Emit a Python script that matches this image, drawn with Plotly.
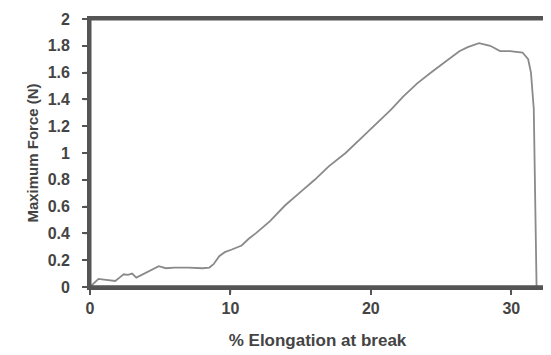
import plotly.graph_objects as go

elongation = [0, 0.3, 0.6, 1.0, 1.4, 1.8, 2.1, 2.4, 2.7, 3.0, 3.3, 3.7, 4.2, 4.6, 4.9,
              5.4, 6.0, 7.0, 8.0, 8.5, 8.8, 9.2, 9.6, 10.1, 10.8, 11.3, 11.8, 12.8,
              13.9, 15.0, 16.0, 17.0, 18.2, 19.2, 20.3, 21.4, 22.3, 23.3, 24.4, 25.5,
              26.3, 26.9, 27.7, 28.5, 29.2, 29.9, 30.8, 31.2, 31.4, 31.6, 31.7, 31.8]
force = [0.0, 0.03, 0.06, 0.055, 0.05, 0.045, 0.07, 0.095, 0.09, 0.10, 0.07, 0.09, 0.12,
         0.14, 0.155, 0.14, 0.145, 0.145, 0.14, 0.145, 0.17, 0.23, 0.26, 0.28, 0.31,
         0.36, 0.40, 0.49, 0.61, 0.71, 0.80, 0.90, 1.00, 1.10, 1.21, 1.32, 1.42, 1.52,
         1.61, 1.70, 1.76, 1.79, 1.82, 1.80, 1.76, 1.76, 1.75, 1.70, 1.60, 1.33, 0.8, 0.0]

x_ticks = [0, 10, 20, 30]
y_ticks = [0, 0.2, 0.4, 0.6, 0.8, 1, 1.2, 1.4, 1.6, 1.8, 2]

FONT = "Liberation Sans, Arial, sans-serif"
NB = "\u00a0"
FRAME = "#555555"

fig = go.Figure()
fig.add_trace(go.Scatter(x=elongation, y=force, mode="lines",
                         line=dict(color="#8a8a8a", width=1.8), showlegend=False))

axis_common = dict(showgrid=False, zeroline=False, showline=True, mirror=True,
                   linecolor=FRAME, linewidth=3, ticks="outside", ticklen=5,
                   tickcolor=FRAME, tickwidth=1.5, ticklabeloverflow="allow",
                   tickfont=dict(family=FONT, size=16, color="#444444"))

shapes = [dict(type="rect", xref="paper", yref="paper", x0=0, y0=0, x1=1, y1=1,
               line=dict(color=FRAME, width=3), layer="above"),
          dict(type="line", xref="paper", yref="paper", x0=0, y0=0, x1=1, y1=0,
               line=dict(color=FRAME, width=3), layer="above")]
# explicit tick marks (outside), anchored at the tick values
for v in x_ticks:
    shapes.append(dict(type="line", xref="x", yref="paper", ysizemode="pixel", yanchor=0,
                       x0=v, x1=v, y0=-1, y1=-6,
                       line=dict(color=FRAME, width=1.5), layer="above"))
for v in y_ticks:
    shapes.append(dict(type="line", xref="paper", yref="y", xsizemode="pixel", xanchor=0,
                       y0=v, y1=v, x0=-1, x1=-6,
                       line=dict(color=FRAME, width=1.5), layer="above"))

# page body has an 8px default margin, so the figure is shrunk by 8px
fig.update_layout(
    width=543, height=347,
    margin=dict(l=82, r=3, t=6, b=68),
    paper_bgcolor="white", plot_bgcolor="white",
    font=dict(family=FONT, color="#444444"),
    xaxis=dict(range=[0, 32.4], tickvals=x_ticks,
               ticktext=[f"<b>{v:g}</b>" for v in x_ticks],
               title=dict(text="<b>% Elongation at break</b>", font=dict(size=17), standoff=18),
               **axis_common),
    yaxis=dict(range=[0, 2], tickvals=y_ticks,
               ticktext=[f"<b>{v:g}</b>{NB}{NB}" for v in y_ticks],
               title=dict(text="<b>Maximum Force (N)</b>", font=dict(size=15), standoff=6),
               **axis_common),
    shapes=shapes,
)
fig.write_html("out.html")
